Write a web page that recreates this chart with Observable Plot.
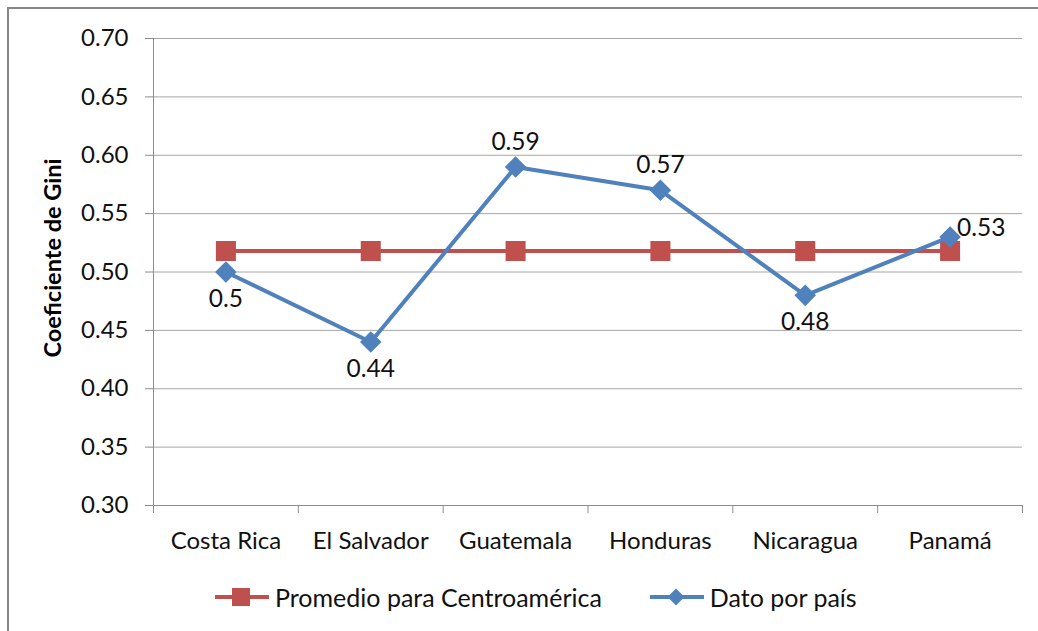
<!DOCTYPE html>
<html>
<head>
<meta charset="utf-8">
<script src="https://cdn.jsdelivr.net/npm/d3@7"></script>
<script src="https://cdn.jsdelivr.net/npm/@observablehq/plot@0.6"></script>
<style>
  html, body { margin: 0; padding: 0; background: #fff; overflow: hidden; }
  #wrap { position: relative; width: 1038px; height: 631px; overflow: hidden; font-family: Lato, "Open Sans", sans-serif; }
  #frame { position: absolute; left: 7px; top: 7px; width: 1100px; height: 700px; border: 2px solid #888; box-sizing: border-box; pointer-events: none; }
  #chart { position: absolute; left: 0; top: 0; }
  #legend { position: absolute; top: 582px; left: 215px; display: flex; align-items: center; font-size: 25px; color: #111; white-space: nowrap; }
  #legend .item { display: flex; align-items: center; }
  #legend svg { display: block; margin-right: 6px; }
</style>
</head>
<body>
<div id="wrap">
  <div id="chart"></div>
  <div id="legend"></div>
  <div id="frame"></div>
</div>
<script>
// ---- data ----
const countries = ["Costa Rica", "El Salvador", "Guatemala", "Honduras", "Nicaragua", "Panamá"];
const giniValues = [0.50, 0.44, 0.59, 0.57, 0.48, 0.53];
const averageValue = 0.518;
const yTicks = [0.30, 0.35, 0.40, 0.45, 0.50, 0.55, 0.60, 0.65, 0.70];
const seriesNames = ["Promedio para Centroamérica", "Dato por país"];
const seriesColors = ["#C0504D", "#4F81BD"];
const yTitle = "Coeficiente de Gini";

// ---- tables ----
const countryRows = countries.map((c, i) => ({country: c, pos: i + 0.5, value: giniValues[i], avg: averageValue, i}));
const boundaries = d3.range(countries.length + 1);
const centers = countryRows.map(d => d.pos);

const font = "Lato, 'Open Sans', sans-serif";
const gridColor = "#a6a6a6";
const axisColor = "#8c8c8c";

const last = countries.length - 1;
const below = countryRows.filter(d => d.i !== last && d.value < d.avg);
const above = countryRows.filter(d => d.i !== last && d.value >= d.avg);
const right = countryRows.filter(d => d.i === last);

const plot = Plot.plot({
  width: 1038,
  height: 560,
  marginLeft: 153,
  marginRight: 16,
  marginTop: 38,
  marginBottom: 55,
  style: {fontFamily: font, background: "transparent", overflow: "visible"},
  x: {type: "linear", domain: [0, countries.length], axis: null},
  y: {domain: [0.30, 0.70], axis: null},
  marks: [
    Plot.ruleY(yTicks, {y: d => d, stroke: gridColor, strokeWidth: 1}),
    Plot.ruleX([0], {x: d => d, y1: 0.30, y2: 0.70, stroke: axisColor, strokeWidth: 1}),
    Plot.ruleY([0.30], {y: d => d, stroke: axisColor, strokeWidth: 1}),
    Plot.axisY({ticks: yTicks, tickFormat: d3.format(".2f"), tickSize: 8, tickPadding: 17, fontSize: 24, stroke: axisColor, fill: "#111", label: null}),
    Plot.axisX({ticks: boundaries, tickSize: 8, tickFormat: () => "", stroke: axisColor, label: null}),
    Plot.axisX({ticks: centers, tickSize: 0, tickPadding: 26, tickFormat: d => countries[Math.round(d - 0.5)], fontSize: 24, fill: "#111", label: null}),
    Plot.text([yTitle], {text: d => d, frameAnchor: "left", textAnchor: "middle", dx: -100, dy: -14, rotate: -90, fontSize: 23.5, fontWeight: "bold", fill: "#000"}),
    // average series
    Plot.line(countryRows, {x: "pos", y: "avg", stroke: seriesColors[0], strokeWidth: 4}),
    Plot.dot(countryRows, {x: "pos", y: "avg", symbol: "square", r: 11.3, fill: seriesColors[0], stroke: "none"}),
    // country series
    Plot.line(countryRows, {x: "pos", y: "value", stroke: seriesColors[1], strokeWidth: 4}),
    Plot.dot(countryRows, {x: "pos", y: "value", symbol: "square", r: 8.6, rotate: 45, fill: seriesColors[1], stroke: "none"}),
    // data labels
    Plot.text(below, {x: "pos", y: "value", text: d => String(d.value), dy: 27, fontSize: 24.5, fill: "#111"}),
    Plot.text(above, {x: "pos", y: "value", text: d => String(d.value), dy: -25, fontSize: 24.5, fill: "#111"}),
    Plot.text(right, {x: "pos", y: "value", text: d => String(d.value), dx: 7, dy: -9, textAnchor: "start", fontSize: 24.5, fill: "#111"})
  ]
});
document.getElementById("chart").appendChild(plot);

// ---- legend ----
const legend = document.getElementById("legend");
seriesNames.forEach((name, k) => {
  const item = document.createElement("div");
  item.className = "item";
  if (k > 0) item.style.marginLeft = "48px";
  const marker = k === 0
    ? `<rect x="17" y="4" width="18" height="18" fill="${seriesColors[k]}"/>`
    : `<rect x="20" y="7" width="12" height="12" fill="${seriesColors[k]}" transform="rotate(45 26 13)"/>`;
  item.innerHTML = `<svg width="54" height="26"><line x1="0" x2="54" y1="13" y2="13" stroke="${seriesColors[k]}" stroke-width="4"/>${marker}</svg><span>${name}</span>`;
  legend.appendChild(item);
});
</script>
</body>
</html>
